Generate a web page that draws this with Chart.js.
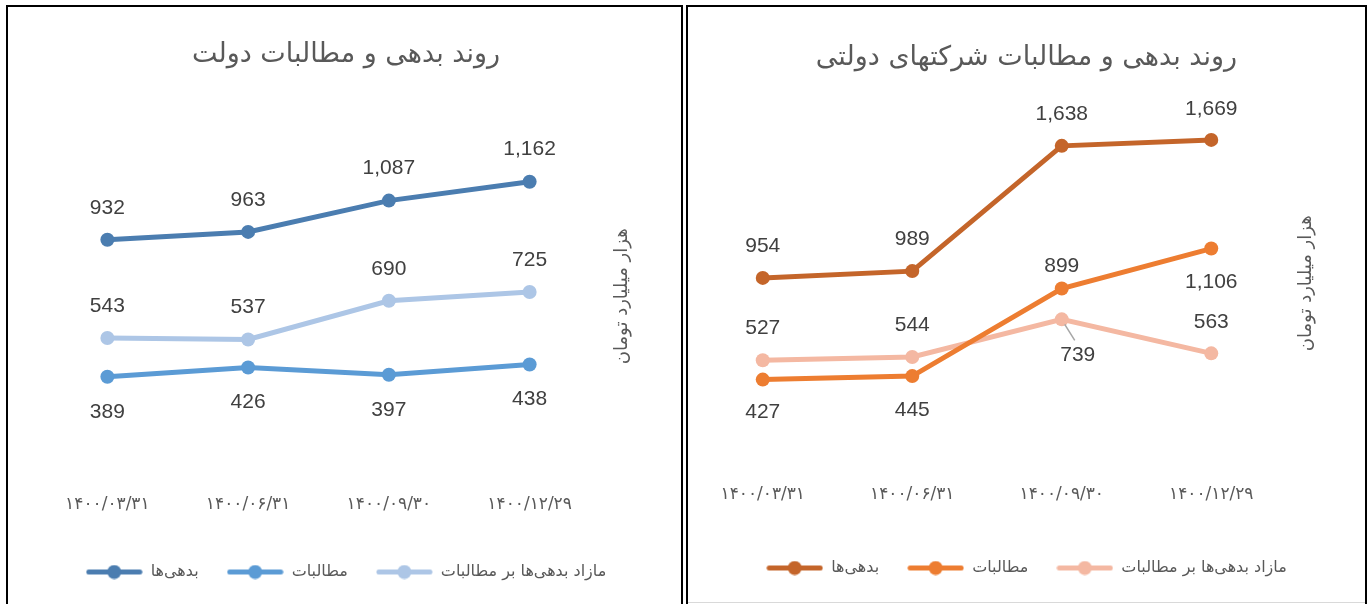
<!DOCTYPE html>
<html>
<head>
<meta charset="utf-8">
<script src="https://cdn.jsdelivr.net/npm/chart.js@4.4.0/dist/chart.umd.min.js"></script>
<style>
  html, body { margin: 0; padding: 0; overflow: hidden; background: #fff; }
  .panel { position: absolute; top: 5px; height: 612px; border: 2px solid #000; box-sizing: border-box; background: #fff; }
  #p1 { left: 6px; width: 677px; }
  #p2 { left: 686px; width: 681px; }
  .panel canvas { display: block; }
  #rule { position: absolute; left: 688px; top: 602px; width: 677px; height: 1px; background: #d9d9d9; }
</style>
</head>
<body>
<div class="panel" id="p1"><canvas id="govChart" width="673" height="606"></canvas></div>
<div class="panel" id="p2"><canvas id="socChart" width="677" height="606"></canvas></div>
<div id="rule"></div>
<script>
const dates = ['۱۴۰۰/۰۳/۳۱', '۱۴۰۰/۰۶/۳۱', '۱۴۰۰/۰۹/۳۰', '۱۴۰۰/۱۲/۲۹'];
const seriesNames = ['بدهی‌ها', 'مطالبات', 'مازاد بدهی‌ها بر مطالبات'];
const unitTitle = 'هزار میلیارد تومان';

// government
const govDebts = [932, 963, 1087, 1162];
const govClaims = [389, 426, 397, 438];
const govExcess = [543, 537, 690, 725];

// state-owned companies
const socDebts = [954, 989, 1638, 1669];
const socClaims = [427, 445, 899, 1106];
const socExcess = [527, 544, 739, 563];

const blues = ['#4b7db0', '#5b9bd5', '#adc6e6'];
const oranges = ['#c4652a', '#ed7d31', '#f4b8a2'];

// where each value label sits relative to its point
const govLabelDy = [[-32, -32, -32, -32], [35, 35, 35, 35], [-32, -32, -32, -32]];
const socLabelDy = [[-32, -32, -32, -31], [33, 34, -22, 34], [-32, -32, 36, -31]];
const socLabelDx = [[0, 0, 0, 0], [0, 0, 0, 0], [0, 0, 16, 0]];

function makeMarker(color) {
    const c = document.createElement('canvas');
    c.width = 57;
    c.height = 15;
    const g = c.getContext('2d');
    g.strokeStyle = color;
    g.lineWidth = 5;
    g.lineCap = 'round';
    g.beginPath();
    g.moveTo(3, 7.5);
    g.lineTo(54, 7.5);
    g.stroke();
    g.fillStyle = color;
    g.beginPath();
    g.arc(28.5, 7.5, 7, 0, Math.PI * 2);
    g.fill();
    return c;
}

const valueLabels = {
    id: 'valueLabels',
    afterDatasetsDraw(chart, args, opts) {
        const ctx = chart.ctx;
        ctx.save();
        ctx.font = '21px "Liberation Sans"';
        ctx.fillStyle = '#404040';
        ctx.textAlign = 'center';
        ctx.textBaseline = 'middle';
        chart.data.datasets.forEach((ds, i) => {
            chart.getDatasetMeta(i).data.forEach((pt, j) => {
                const dy = opts.dy[i][j];
                const dx = opts.dx ? opts.dx[i][j] : 0;
                if (dx) {
                    ctx.strokeStyle = '#a6a6a6';
                    ctx.lineWidth = 1.5;
                    ctx.beginPath();
                    ctx.moveTo(pt.x + 3, pt.y + 5);
                    ctx.lineTo(pt.x + dx - 3, pt.y + dy - 15);
                    ctx.stroke();
                }
                ctx.fillText(ds.data[j].toLocaleString('en-US'), pt.x + dx, pt.y + dy);
            });
        });
        ctx.restore();
    }
};

// unit title beside the plot, reading bottom to top
const axisTitle = {
    id: 'axisTitle',
    afterDraw(chart, args, opts) {
        const ctx = chart.ctx;
        const area = chart.chartArea;
        ctx.save();
        ctx.translate(area.right + opts.offset, (area.top + area.bottom) / 2 + opts.shift);
        ctx.rotate(-Math.PI / 2);
        ctx.font = '18px "DejaVu Sans"';
        ctx.fillStyle = '#595959';
        ctx.textAlign = 'center';
        ctx.textBaseline = 'middle';
        ctx.fillText(opts.text, 0, 0);
        ctx.restore();
    }
};

function buildChart(id, title, values, colors, yMax, lay, labelDy, labelDx) {
    const markers = colors.map(makeMarker);
    return new Chart(document.getElementById(id), {
        type: 'line',
        data: {
            labels: dates,
            datasets: values.map((v, i) => ({
                label: seriesNames[i],
                data: v,
                borderColor: colors[i],
                backgroundColor: colors[i],
                borderWidth: 5,
                pointRadius: 7,
                pointHoverRadius: 7,
                pointBorderWidth: 0,
                tension: 0
            }))
        },
        options: {
            responsive: false,
            animation: false,
            layout: {
                autoPadding: false,
                padding: { left: lay.padLeft, right: lay.padRight, top: 0, bottom: lay.padBottom }
            },
            scales: {
                x: {
                    offset: true,
                    grid: { display: false, drawTicks: false },
                    border: { display: false },
                    ticks: { padding: lay.tickPad, color: '#595959', font: { family: 'DejaVu Sans', size: 17 } },
                    afterFit(s) {
                        s.height = lay.xHeight;
                        s.paddingLeft = 0;
                        s.paddingRight = 0;
                    }
                },
                y: {
                    position: 'right',
                    min: 0,
                    max: yMax,
                    grid: { display: false },
                    border: { display: false },
                    ticks: { display: false },
                    afterFit(s) { s.width = lay.yWidth; }
                }
            },
            plugins: {
                title: {
                    display: true,
                    text: title,
                    color: '#595959',
                    font: { family: 'DejaVu Sans', size: 27, weight: 'normal' },
                    padding: { top: lay.titleTop, bottom: lay.titleBottom }
                },
                legend: {
                    position: 'bottom',
                    labels: {
                        usePointStyle: true,
                        pointStyleWidth: 57,
                        padding: 28,
                        color: '#595959',
                        font: { family: 'DejaVu Sans', size: 16 },
                        generateLabels(chart) {
                            const items = Chart.defaults.plugins.legend.labels.generateLabels(chart);
                            items.forEach(it => { it.pointStyle = markers[it.datasetIndex]; });
                            return items;
                        }
                    }
                },
                tooltip: { enabled: false },
                valueLabels: { dy: labelDy, dx: labelDx },
                axisTitle: { text: unitTitle, offset: lay.unitOffset, shift: lay.unitShift }
            }
        },
        plugins: [valueLabels, axisTitle]
    });
}

buildChart('govChart', 'روند بدهی و مطالبات دولت',
    [govDebts, govClaims, govExcess], blues, 1400,
    { padLeft: 29, padRight: 26, padBottom: 23, xHeight: 61, tickPad: 19, yWidth: 55, unitOffset: 22, unitShift: -2, titleTop: 31.8, titleBottom: 50.4 },
    govLabelDy, null);

buildChart('socChart', 'روند بدهی و مطالبات شرکتهای دولتی',
    [socDebts, socClaims, socExcess], oranges, 1800,
    { padLeft: 0, padRight: 0, padBottom: 27, xHeight: 70, tickPad: 22, yWidth: 79, unitOffset: 20, unitShift: -5, titleTop: 34.8, titleBottom: 40.4 },
    socLabelDy, socLabelDx);
</script>
</body>
</html>
